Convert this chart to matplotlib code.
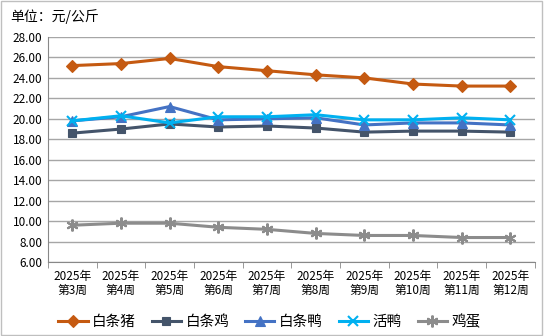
import matplotlib.pyplot as plt
import numpy as np

plt.rcParams['font.family'] = ['Noto Sans CJK SC', 'DejaVu Sans']

weeks = ["2025年\n第3周", "2025年\n第4周", "2025年\n第5周", "2025年\n第6周", "2025年\n第7周",
         "2025年\n第8周", "2025年\n第9周", "2025年\n第10周", "2025年\n第11周", "2025年\n第12周"]
pork = [25.2, 25.4, 25.9, 25.1, 24.7, 24.3, 24.0, 23.4, 23.2, 23.2]
chicken = [18.6, 19.0, 19.5, 19.2, 19.3, 19.1, 18.7, 18.8, 18.8, 18.7]
duck = [19.8, 20.2, 21.2, 19.9, 20.0, 20.1, 19.4, 19.6, 19.6, 19.4]
live_duck = [19.8, 20.3, 19.6, 20.2, 20.2, 20.4, 19.9, 19.9, 20.1, 19.9]
egg = [9.6, 9.8, 9.8, 9.4, 9.2, 8.8, 8.6, 8.6, 8.4, 8.4]

series = [
    ("白条猪", pork, "#C55A11", "D", 6.5),
    ("白条鸡", chicken, "#44546A", "s", 5.5),
    ("白条鸭", duck, "#4472C4", "^", 7.5),
    ("活鸭", live_duck, "#00B0F0", "x", 7.5),
    ("鸡蛋", egg, "#8C8C8C", (6, 2, 0), 8.5),
]

fig = plt.figure(figsize=(5.44, 3.36), dpi=100)
ax = fig.add_axes([0.088, 0.22, 0.895, 0.67])

x = np.arange(len(weeks))
for name, vals, color, marker, ms in series:
    ax.plot(x, vals, color=color, lw=2.2, marker=marker, markersize=ms,
            markeredgewidth=1.5 if marker in ("x", (6, 2, 0)) else 0.8,
            markeredgecolor=color, label=name)

ax.set_ylim(6, 28)
ax.set_yticks(np.arange(6, 28.1, 2))
ax.set_yticklabels([f"{v:.2f}" for v in np.arange(6, 28.1, 2)], fontsize=8.5)
ax.set_xlim(-0.5, len(weeks) - 0.5)
ax.set_xticks(x)
ax.set_xticklabels(weeks, fontsize=8.5, linespacing=1.1)
ax.set_xticks(np.arange(-0.5, len(weeks), 1), minor=True)
ax.tick_params(axis='x', which='major', length=0, pad=6)
ax.tick_params(axis='x', which='minor', length=4, color="#888888")
ax.tick_params(axis='y', length=0, pad=4)
ax.yaxis.grid(True, color="#A6A6A6", lw=1)
ax.set_axisbelow(True)
for s in ("top", "right"):
    ax.spines[s].set_visible(False)
ax.spines["left"].set_color("#888888")
ax.spines["bottom"].set_color("#888888")

fig.text(0.018, 0.952, "单位：元/公斤", fontsize=10, va="center")

ax.legend(loc="upper center", bbox_to_anchor=(0.455, -0.175), ncol=5, frameon=False,
          fontsize=10.5, handlelength=2.0, columnspacing=1.1, handletextpad=0.3)

fig.patches.append(plt.Rectangle((0.002, 0.003), 0.995, 0.994, transform=fig.transFigure,
                                 fill=False, edgecolor="#BFBFBF", lw=1))
fig.savefig("out.png", dpi=100)
